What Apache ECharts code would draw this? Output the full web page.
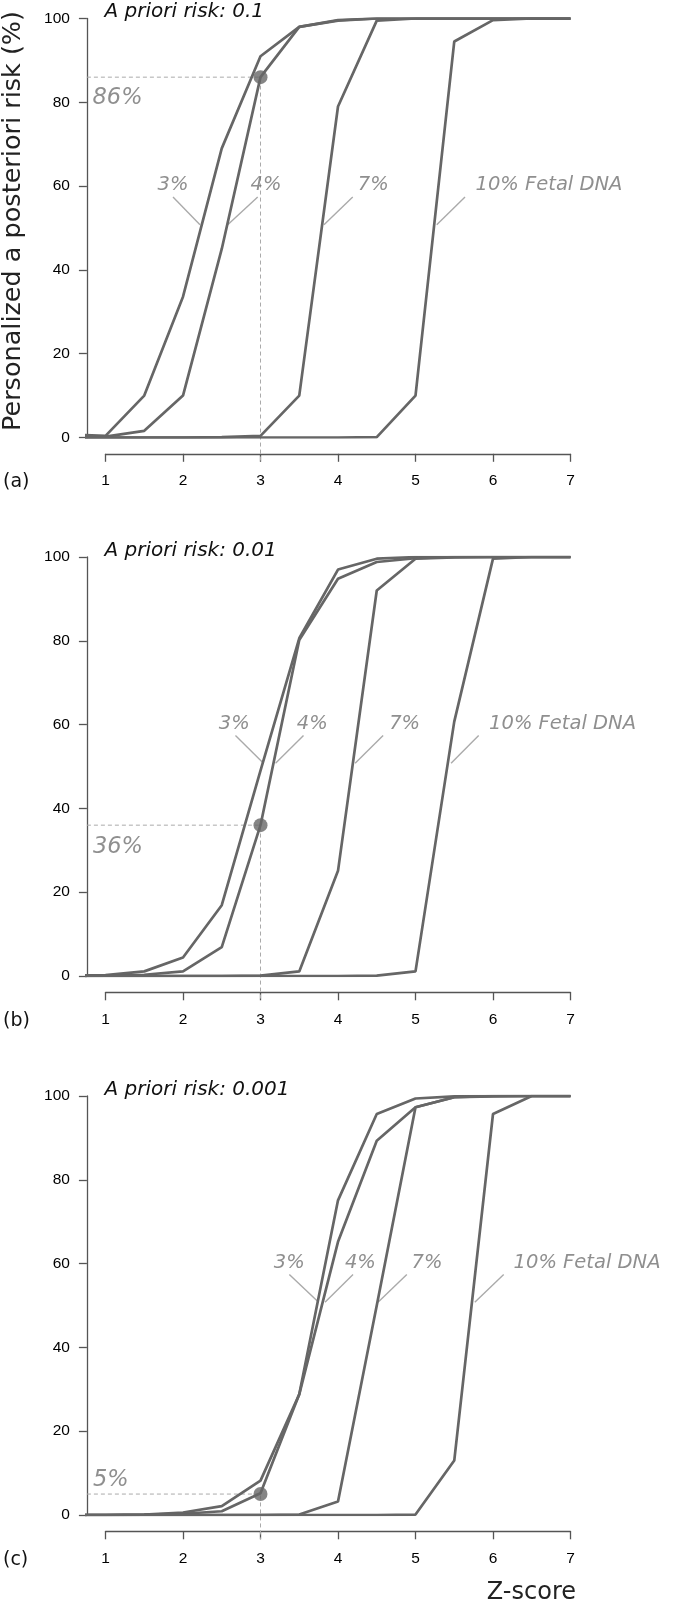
<!DOCTYPE html>
<html>
<head>
<meta charset="utf-8">
<script src="https://cdn.jsdelivr.net/npm/echarts@6/dist/echarts.min.js"></script>
<style>
  html, body { margin: 0; padding: 0; background: #fff; }
  #chart { width: 675px; height: 1606px; }
</style>
</head>
<body>
<div id="chart"></div>
<script>
// z-scores at which the posterior risk was evaluated
const zScores = [0.5, 1, 1.5, 2, 2.5, 3, 3.5, 4, 4.5, 5, 5.5, 6, 6.5, 7]
const fetalFractions = ['3%', '4%', '7%', '10% Fetal DNA']
const priorRisks = ['0.1', '0.01', '0.001']
const panelTags = ['(a)', '(b)', '(c)']
const yTicks = [0, 20, 40, 60, 80, 100]
const xTicks = [1, 2, 3, 4, 5, 6, 7]

// posterior risk (%) per fetal fraction, one block per a priori risk
const risk01 = [
  [0.7, 0.4, 10, 33.6, 69, 91, 98, 99.6, 100, 100, 100, 100, 100, 100],
  [0.3, 0.2, 1.6, 10, 45, 86, 98, 99.5, 100, 100, 100, 100, 100, 100],
  [0, 0, 0, 0, 0.1, 0.4, 10, 79, 99.5, 100, 100, 100, 100, 100],
  [0, 0, 0, 0, 0, 0, 0, 0, 0.1, 10, 94.5, 99.6, 100, 100]
]
const risk001 = [
  [0.1, 0.2, 1.1, 4.4, 16.9, 49, 80.6, 97, 99.6, 100, 100, 100, 100, 100],
  [0, 0.1, 0.3, 1.1, 6.9, 36, 80.2, 94.8, 98.8, 99.7, 100, 100, 100, 100],
  [0, 0, 0, 0, 0, 0.1, 1.1, 25.1, 92, 99.6, 99.9, 100, 100, 100],
  [0, 0, 0, 0, 0, 0, 0, 0, 0.1, 1.1, 60.7, 99.6, 100, 100]
]
const risk0001 = [
  [0, 0, 0.1, 0.6, 2.1, 8.2, 28.8, 75.1, 95.7, 99.4, 99.9, 100, 100, 100],
  [0, 0, 0.1, 0.3, 0.9, 5.2, 28.8, 65.2, 89.3, 97.3, 99.7, 100, 100, 100],
  [0, 0, 0, 0, 0, 0, 0.1, 3.2, 50, 97.3, 99.7, 99.9, 100, 100],
  [0, 0, 0, 0, 0, 0, 0, 0, 0, 0.1, 13, 95.7, 100, 100]
]
const panelRisks = [risk01, risk001, risk0001]

// highlighted example: 4% fetal DNA at Z = 3
const highlightZ = 3
const highlightRisk = [86, 36, 5]

// annotation placement (data coordinates)
const labelLeftZ = [
  [1.665, 2.865, 4.249, 5.768],
  [2.456, 3.461, 4.654, 5.943],
  [3.166, 4.083, 4.943, 6.259]
]
const labelY = 60.2
const calloutTopZ = [
  [1.871, 2.964, 4.19, 5.639],
  [2.677, 3.555, 4.582, 5.815],
  [3.372, 4.194, 4.888, 6.138]
]
const calloutBottomZ = [
  [2.219, 2.577, 3.819, 5.274],
  [3.039, 3.194, 4.221, 5.459],
  [3.75, 3.832, 4.516, 5.765]
]
const calloutTopY = 57.4
const calloutBottomY = 50.8
const valueLabelPos = [[0.826, 81], [0.832, 30.8], [0.832, 8.4]]

const zMin = 0.76
const zMax = 7.24

const LINE = '#666'
const AXIS = '#555'
const GUIDE = '#aaa'
const NOTE = '#737373'
const SANS = "'DejaVu Sans', Verdana, sans-serif"
const TICKFONT = "'Liberation Sans', Arial, sans-serif"

// pixel layout of the three panels
const plotLeft = 86.9
const plotWidth = 502.2
const plotHeight = 419
const plotTops = [18.5, 557, 1096]
const xAxisGap = 16.3

const grid = []
const xAxis = []
const yAxis = []
const series = []
const graphic = []

plotTops.forEach((top, i) => {
  const axisLineY = top + plotHeight + xAxisGap
  // plot area
  grid.push({ left: plotLeft, top: top, width: plotWidth, height: plotHeight })
  // separate R-style x axis spanning 1..7 only
  grid.push({ left: 105.5, top: axisLineY - 1, width: 465, height: 1 })

  xAxis.push({
    gridIndex: 2 * i, type: 'value', min: zMin, max: zMax,
    show: false
  })
  xAxis.push({
    gridIndex: 2 * i + 1, type: 'value', min: xTicks[0], max: xTicks[xTicks.length - 1], interval: 1,
    position: 'bottom',
    axisLine: { show: true, onZero: false, lineStyle: { color: AXIS, width: 1.3 } },
    axisTick: { show: true, length: 8, lineStyle: { color: AXIS, width: 1.3 } },
    axisLabel: { margin: 19, color: '#000', fontSize: 15.5, fontFamily: TICKFONT },
    splitLine: { show: false }
  })
  yAxis.push({
    gridIndex: 2 * i, type: 'value', min: yTicks[0], max: yTicks[yTicks.length - 1], interval: 20,
    axisLine: { show: true, lineStyle: { color: AXIS, width: 1.3 } },
    axisTick: { show: true, length: 8, lineStyle: { color: AXIS, width: 1.3 } },
    axisLabel: { margin: 17, color: '#000', fontSize: 15.5, fontFamily: TICKFONT },
    splitLine: { show: false }
  })
  yAxis.push({ gridIndex: 2 * i + 1, type: 'value', show: false })

  const xi = 2 * i
  const yi = 2 * i

  // dashed guides to the highlighted point
  const r = highlightRisk[i]
  series.push({
    type: 'line', xAxisIndex: xi, yAxisIndex: yi, clip: false, symbol: 'none',
    data: [[zMin, r], [highlightZ, r], [highlightZ, -5.8]],
    lineStyle: { color: GUIDE, width: 1, type: [4, 3] }, z: 1
  })

  // curves
  panelRisks[i].forEach((vals, k) => {
    series.push({
      type: 'line', name: fetalFractions[k], xAxisIndex: xi, yAxisIndex: yi,
      clip: true, symbol: 'none',
      data: zScores.map((zv, j) => [zv, vals[j]]),
      lineStyle: { color: LINE, width: 2.7 }, z: 3
    })
  })

  // callout leaders
  fetalFractions.forEach((name, k) => {
    series.push({
      type: 'line', xAxisIndex: xi, yAxisIndex: yi, symbol: 'none',
      data: [[calloutTopZ[i][k], calloutTopY], [calloutBottomZ[i][k], calloutBottomY]],
      lineStyle: { color: GUIDE, width: 1.4 }, z: 2
    })
  })

  // curve labels + value label
  const labelData = fetalFractions.map((name, k) => ({
    value: [labelLeftZ[i][k], labelY], name: name
  }))
  labelData.push({
    value: valueLabelPos[i], name: r + '%',
    label: { fontSize: 22.5 }
  })
  series.push({
    type: 'scatter', xAxisIndex: xi, yAxisIndex: yi, symbolSize: 1,
    itemStyle: { color: 'rgba(0,0,0,0)' },
    data: labelData,
    label: {
      show: true, position: 'right', distance: 0,
      formatter: p => p.name,
      color: NOTE, fontSize: 19.5, fontStyle: 'italic', fontFamily: SANS
    },
    z: 4
  })

  // highlighted point
  series.push({
    type: 'scatter', xAxisIndex: xi, yAxisIndex: yi, symbolSize: 14,
    data: [[highlightZ, r]],
    itemStyle: { color: LINE }, z: 5
  })

  graphic.push({
    type: 'text', left: 104.5, top: top - 16.5,
    style: {
      text: 'A priori risk: ' + priorRisks[i],
      fill: '#111', font: 'italic 20px ' + SANS
    }
  })
  graphic.push({
    type: 'text', left: 3, top: axisLineY + 19,
    style: { text: panelTags[i], fill: '#111', font: '19px ' + SANS }
  })
})

graphic.push({
  type: 'text', x: 13, y: 221, rotation: Math.PI / 2,
  style: {
    text: 'Personalized a posteriori risk (%)',
    fill: '#222', font: '25.5px ' + SANS, align: 'center', verticalAlign: 'middle'
  }
})
graphic.push({
  type: 'text', x: 576, y: 1593,
  style: {
    text: 'Z-score', fill: '#222', font: '24px ' + SANS,
    align: 'right', verticalAlign: 'middle'
  }
})

const chart = echarts.init(document.getElementById('chart'), null, { renderer: 'canvas' })
chart.setOption({
  animation: false,
  backgroundColor: '#fff',
  grid: grid,
  xAxis: xAxis,
  yAxis: yAxis,
  series: series,
  graphic: graphic
})
</script>
</body>
</html>
